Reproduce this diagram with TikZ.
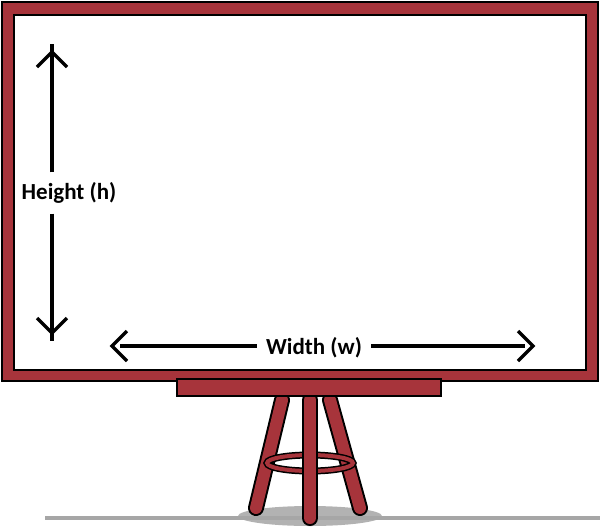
\documentclass[tikz,border=0pt]{standalone}
\usepackage{fontspec}
\setmainfont{Carlito}
\definecolor{wood}{HTML}{A7343B}
\begin{document}
\begin{tikzpicture}[x=1pt,y=-1pt,
  frame/.style={fill=wood,draw=black,line width=2pt},
  leg/.style={draw=black,line width=16pt,line cap=round},
  legin/.style={draw=wood,line width=12pt,line cap=round},
  dim/.style={draw=black,line width=3.2pt},
  lbl/.style={font=\bfseries\fontsize{23}{23}\selectfont,inner sep=1pt}]
\useasboundingbox (0,0) rectangle (600,528);
% shadow and ground
\fill[gray!60] (310,516) ellipse (72 and 10);
\draw[gray!70,line width=3.5pt] (45,518) -- (600,518);
% legs
\foreach \a/\b in {{282,400}/{256,508},{330,400}/{360,508}}{
  \draw[leg] (\a) -- (\b); \draw[legin] (\a) -- (\b);}
% ring
\draw[black,line width=7pt] (310,463) ellipse (43 and 8);
\draw[wood,line width=4pt] (310,463) ellipse (43 and 8);
\draw[leg] (310,400) -- (310,518); \draw[legin] (310,400) -- (310,518);
% board
\draw[frame] (2,2) rectangle (598,381);
\draw[fill=white,draw=black,line width=1.5pt] (14,15) rectangle (586,370);
\draw[frame] (177,379) rectangle (441,396);
% height
\node[lbl] (h) at (69,193) {Height (h)};
\coordinate (ht) at (52,52); \coordinate (hb) at (52,333);
\draw[dim] ([yshift=9]h.north -| ht) -- ([yshift=8]ht);
\draw[dim] ([yshift=-9]h.south -| ht) -- ([yshift=-8]hb);
\draw[dim] ([shift={(-15,15)}]ht) -- (ht) -- ([shift={(15,15)}]ht);
\draw[dim] ([shift={(-15,-15)}]hb) -- (hb) -- ([shift={(15,-15)}]hb);
% width
\node[lbl] (w) at (314,348) {Width (w)};
\coordinate (wl) at (112,346); \coordinate (wr) at (533,346);
\draw[dim] ([xshift=-8]w.west |- wl) -- ([xshift=8]wl);
\draw[dim] ([xshift=8]w.east |- wr) -- ([xshift=-8]wr);
\draw[dim] ([shift={(15,-15)}]wl) -- (wl) -- ([shift={(15,15)}]wl);
\draw[dim] ([shift={(-15,-15)}]wr) -- (wr) -- ([shift={(-15,15)}]wr);
\end{tikzpicture}
\end{document}
